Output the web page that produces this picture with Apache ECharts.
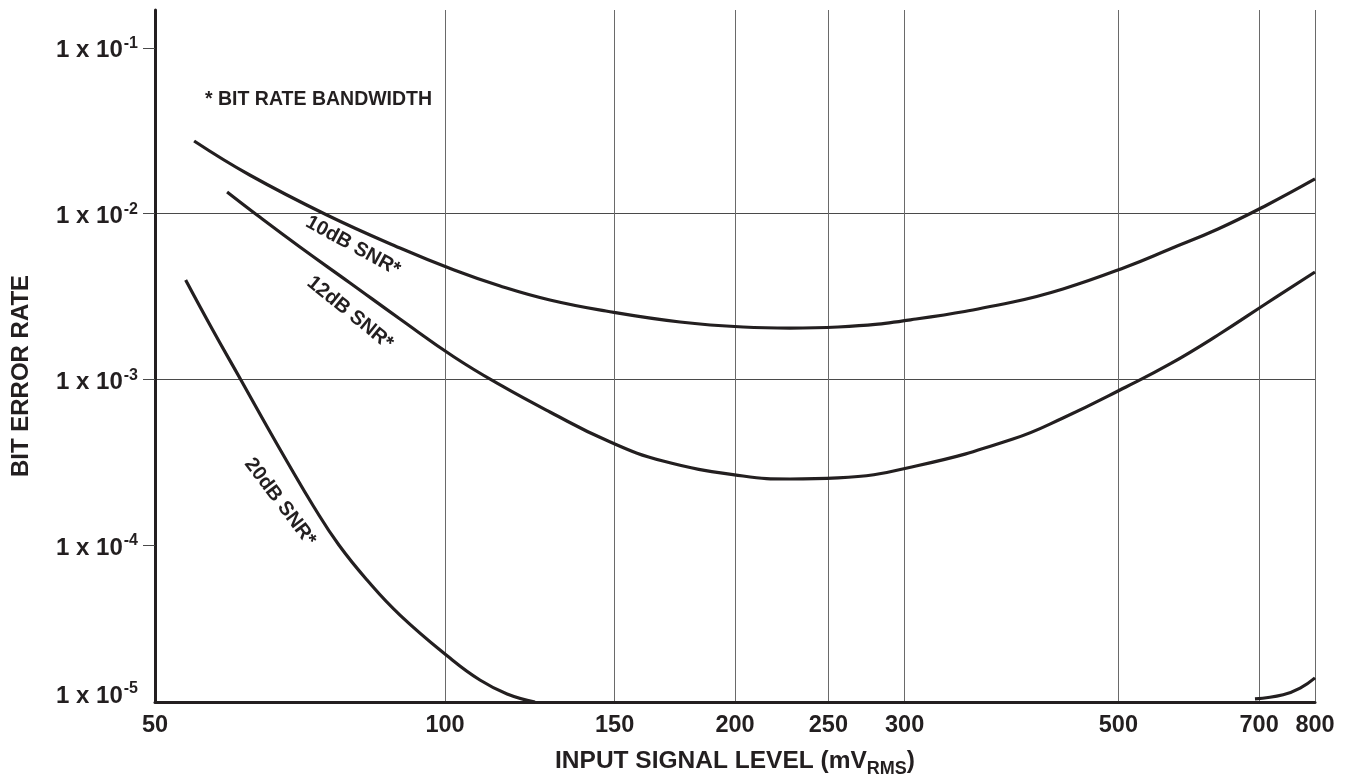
<!DOCTYPE html>
<html>
<head>
<meta charset="utf-8">
<script src="https://cdn.jsdelivr.net/npm/echarts@6/dist/echarts.min.js"></script>
<style>
html,body{margin:0;padding:0;background:#ffffff;}
#chart{width:1350px;height:778px;}
</style>
</head>
<body>
<div id="chart"></div>
<script>
// ---- data (x: input level mVrms, y: bit error rate) ----
const xTickValues = [50, 100, 150, 200, 250, 300, 500, 700, 800];
const yTickValues = [1e-4, 1e-3, 1e-2, 1e-1];
const seriesNames = ['10dB SNR*', '12dB SNR*', '20dB SNR*'];

const snr10 = [[54.9,0.0274],[62.7,0.01708],[75.4,0.0098],[89.8,0.006195],[102.2,0.004564],[114.1,0.003654],[128.5,0.003009],[146.9,0.002582],[175.4,0.002216],[203.9,0.002067],[228.1,0.002038],[255.8,0.002067],[308.3,0.00231],[388.6,0.002926],[438.0,0.003505],[509.2,0.004759],[565.7,0.00611],[634.5,0.008066],[713.3,0.01126],[800,0.01616]];
const snr12 = [[59.4,0.01349],[63.8,0.0098],[70.7,0.006281],[79.7,0.003811],[89.8,0.00231],[102.2,0.001363],[114.1,0.000924],[128.5,0.000635],[146.9,0.00043],[168.4,0.0003214],[203.9,0.000261],[228.1,0.0002503],[255.8,0.0002539],[308.3,0.0002998],[388.6,0.000436],[438.0,0.0005842],[509.2,0.000899],[565.7,0.001237],[634.5,0.00185],[713.3,0.002886],[800,0.00444]];
const snr20Low = [[53.8,0.003972],[57.4,0.001983],[61.4,0.00099],[64.6,0.0005842],[68.6,0.000317],[73.0,0.000172],[77.6,0.0001],[83.0,0.0000615],[89.8,0.0000378],[101.2,0.0000208],[108.7,0.00001534],[116.0,0.00001263],[124.0,0.0000113]];
const snr20High = [[693.1,0.0000118],[741.4,0.0000125],[772.1,0.0000137],[800,0.0000158]];

const xMin = 50, xMax = 800;
const yMin = 1.13e-5, yMax = 0.169;

// ---- styling ----
const FONT = '"Liberation Sans", Arial, Helvetica, sans-serif';
const INK = '#231f20';
const GRID_H = '#4a4a4a';
const GRID_V = '#6a6a6a';

const chart = echarts.init(document.getElementById('chart'), null, {renderer: 'canvas'});

function curve(name, data) {
  return {
    name: name,
    type: 'line',
    data: data,
    smooth: 0.45,
    showSymbol: false,
    symbol: 'none',
    clip: true,
    lineStyle: {color: INK, width: 3.2},
    emphasis: {disabled: true},
    z: 5
  };
}

const option = {
  animation: false,
  backgroundColor: '#ffffff',
  textStyle: {fontFamily: FONT},
  grid: {left: 155, right: 35, top: 10, bottom: 76, containLabel: false, outerBoundsMode: 'none'},
  xAxis: {
    type: 'log',
    logBase: 10,
    min: xMin,
    max: xMax,
    name: '{a|INPUT SIGNAL LEVEL (mV}{s|RMS}{a|)}',
    nameLocation: 'middle',
    nameGap: 42,
    nameTextStyle: {
      rich: {
        a: {fontFamily: FONT, fontSize: 24.5, fontWeight: 'bold', color: INK, lineHeight: 34},
        s: {fontFamily: FONT, fontSize: 18, fontWeight: 'bold', color: INK, lineHeight: 16, verticalAlign: 'bottom'}
      }
    },
    axisLine: {show: true, onZero: false, lineStyle: {color: INK, width: 3}},
    axisTick: {show: false, customValues: xTickValues},
    splitLine: {show: true, lineStyle: {color: GRID_V, width: 1}},
    axisLabel: {
      customValues: xTickValues,
      margin: 12,
      fontFamily: FONT,
      fontSize: 23.5,
      fontWeight: 'bold',
      color: INK,
      formatter: function (v) { return String(Math.round(v)); }
    }
  },
  yAxis: {
    type: 'log',
    logBase: 10,
    min: yMin,
    max: yMax,
    name: 'BIT ERROR RATE',
    nameLocation: 'middle',
    nameGap: 120,
    nameTextStyle: {fontFamily: FONT, fontSize: 24, fontWeight: 'bold', color: INK, lineHeight: 28, padding: [0, 40, 0, 0]},
    axisLine: {show: true, onZero: false, lineStyle: {color: INK, width: 3}},
    axisTick: {show: true, inside: false, length: 12, customValues: yTickValues, lineStyle: {color: GRID_H, width: 1}},
    splitLine: {show: true, showMinLine: false, showMaxLine: false, lineStyle: {color: GRID_H, width: 1}},
    axisLabel: {
      margin: 17,
      padding: [6, 0, 0, 0],
      showMinLabel: true,
      showMaxLabel: false,
      formatter: function (v) {
        const L = Math.log10(v);
        const r = Math.round(L);
        if (Math.abs(L - r) < 0.02) return '{b|1 x 10}{e|' + r + '}';
        if (v < 2e-5) return '{b|1 x 10}{e|-5}\n{g| }';
        return '';
      },
      rich: {
        b: {fontFamily: FONT, fontSize: 24, fontWeight: 'bold', color: INK, lineHeight: 30},
        e: {fontFamily: FONT, fontSize: 16, fontWeight: 'bold', color: INK, lineHeight: 2, verticalAlign: 'top', padding: [0, 0, 0, 1]},
        g: {fontSize: 8, lineHeight: 18}
      }
    }
  },
  series: [
    curve(seriesNames[0], snr10),
    curve(seriesNames[1], snr12),
    curve(seriesNames[2], snr20Low),
    curve(seriesNames[2], snr20High)
  ],
  graphic: [
    {type: 'text', x: 205, y: 100, silent: true,
     style: {text: '* BIT RATE BANDWIDTH', font: 'bold 19.5px ' + FONT, fill: INK, align: 'left', verticalAlign: 'middle'}},
    {type: 'text', x: 353, y: 246, rotation: -0.50, silent: true,
     style: {text: seriesNames[0], font: 'bold 20px ' + FONT, fill: INK, align: 'center', verticalAlign: 'middle'}},
    {type: 'text', x: 350, y: 313, rotation: -0.68, silent: true,
     style: {text: seriesNames[1], font: 'bold 20px ' + FONT, fill: INK, align: 'center', verticalAlign: 'middle'}},
    {type: 'text', x: 280, y: 502, rotation: -0.92, silent: true,
     style: {text: seriesNames[2], font: 'bold 20px ' + FONT, fill: INK, align: 'center', verticalAlign: 'middle'}}
  ]
};

chart.setOption(option);
</script>
</body>
</html>
